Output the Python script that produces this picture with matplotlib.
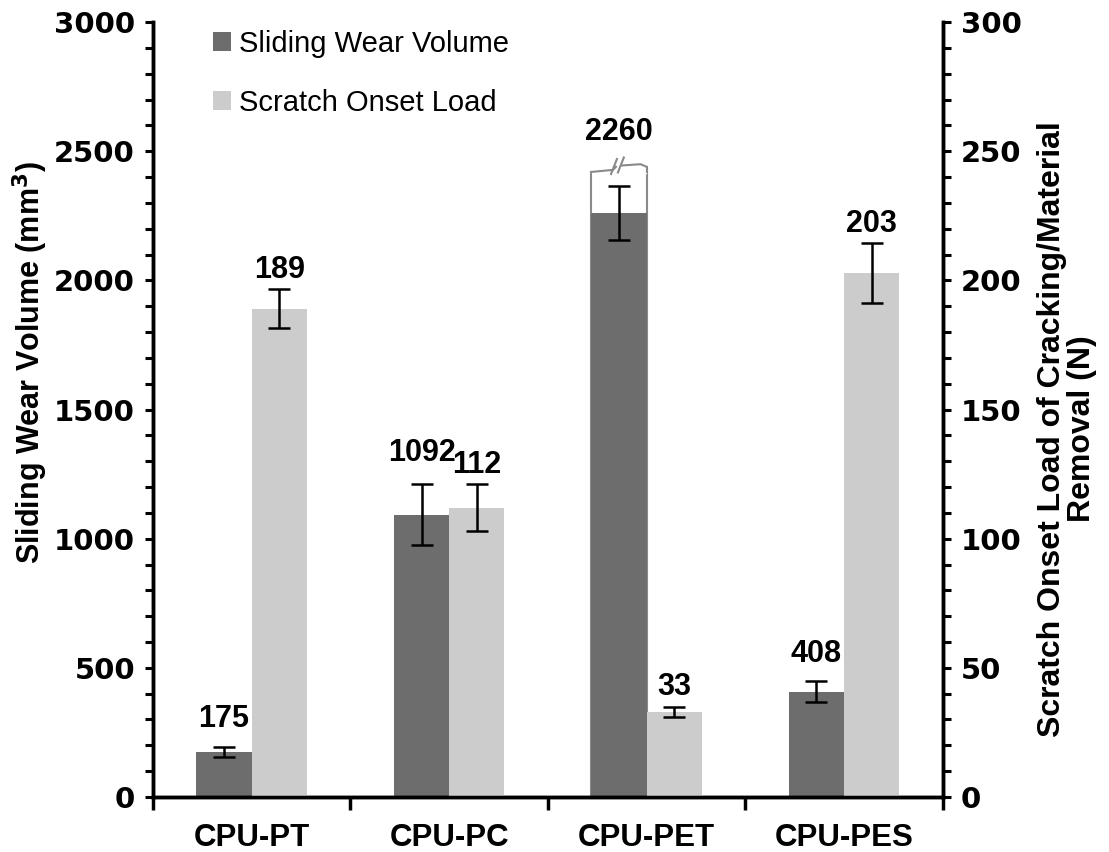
import numpy as np
import matplotlib
matplotlib.use("Agg")
import matplotlib.pyplot as plt
from matplotlib.ticker import MultipleLocator

plt.rcParams['font.family'] = ['Liberation Sans', 'DejaVu Sans']

# data
categories = ["CPU-PT", "CPU-PC", "CPU-PET", "CPU-PES"]
wear_volume = [175, 1092, 2260, 408]
wear_err = [20, 118, 105, 40]
scratch_load = [189, 112, 33, 203]
scratch_err = [7.5, 9, 2, 11.6]
wear_top_shown = 2440   # top of broken PET bar

DARK = "#6d6d6d"
LIGHT = "#cccccc"
EDGE = "#8a8a8a"

fig = plt.figure(figsize=(11.09, 8.52), dpi=100)
ax = fig.add_axes([0.138, 0.0646, 0.712, 0.9094])
ax2 = ax.twinx()

x = np.arange(len(categories)) + 0.5
w = 0.28

# broken PET bar outline (white part above the real value)
ipet = 2
xl, xr = x[ipet] - w, x[ipet]
ax.add_patch(plt.Rectangle((xl, 0), w, 2420, facecolor="white",
                           edgecolor=EDGE, lw=1.5, zorder=1))
ax.fill_between([xl + 0.005, xr - 0.005], 2415, 2430, color="white", zorder=1.5)
ax.plot([xl, xl + 0.11, xl + 0.125], [2420, 2428, 2440], color=EDGE, lw=1.5, zorder=2)
ax.plot([xl + 0.155, xr - 0.03, xr], [2445, 2450, 2440], color=EDGE, lw=1.5, zorder=2)
ax.plot([xr, xr], [2420, 2440], color=EDGE, lw=1.5, zorder=2)
ax.plot([xl + 0.1, xl + 0.13], [2412, 2470], color=EDGE, lw=1.5, zorder=3)
ax.plot([xl + 0.135, xl + 0.165], [2418, 2476], color=EDGE, lw=1.5, zorder=3)

ekw = dict(ecolor="black", elinewidth=1.8, capsize=8, capthick=1.8)
ax.bar(x - w / 2, wear_volume, w, color=DARK, yerr=wear_err, error_kw=ekw,
       zorder=2, label="Sliding Wear Volume")
ax2.bar(x + w / 2, scratch_load, w, color=LIGHT, yerr=scratch_err, error_kw=ekw,
        zorder=2, label="Scratch Onset Load")

# value labels
lab_font = dict(fontsize=22, fontweight="bold", ha="center", va="bottom")
for i, (v, e) in enumerate(zip(wear_volume, wear_err)):
    top = wear_top_shown if i == ipet else v + e
    off = 14 if i == ipet else (12 if i == 1 else 9)
    ax.annotate(str(v), (x[i] - w / 2, top), xytext=(0, off),
                textcoords="offset points", **lab_font)
for i, (v, e) in enumerate(zip(scratch_load, scratch_err)):
    ax2.annotate(str(v), (x[i] + w / 2, v + e), xytext=(0, 3),
                 textcoords="offset points", **lab_font)

ax.set_xlim(0, len(categories))
ax.set_ylim(0, 3000)
ax2.set_ylim(0, 300)
ax.set_xticks(np.arange(len(categories) + 1))
ax.set_xticklabels([])
ax.set_xticks(x, minor=True)
ax.set_xticklabels(categories, minor=True, fontsize=22.5, fontweight="bold")
ax.tick_params(axis="x", which="major", direction="out", length=9, width=2.5)
ax.tick_params(axis="x", which="minor", length=0, pad=19)

ax.yaxis.set_major_locator(MultipleLocator(500))
ax.yaxis.set_minor_locator(MultipleLocator(100))
ax2.yaxis.set_major_locator(MultipleLocator(50))
ax2.yaxis.set_minor_locator(MultipleLocator(10))
for a in (ax, ax2):
    a.tick_params(axis="y", which="both", direction="out", length=6, width=2.2,
                  labelsize=21, pad=7)
    for t in a.get_yticklabels():
        t.set_fontweight("bold")
        t.set_family("DejaVu Sans")
    for s in ("left", "right", "bottom"):
        a.spines[s].set_linewidth(2.5)
    a.spines["top"].set_visible(False)

ax.set_ylabel("Sliding Wear Volume (mm$^\\mathbf{3}$)", fontsize=22,
              fontweight="bold")
ax.yaxis.set_label_coords(-0.13, 0.56)
ax2.set_ylabel("Scratch Onset Load of Cracking/Material\nRemoval (N)",
               fontsize=23, fontweight="bold", linespacing=1.0)
ax2.yaxis.set_label_coords(1.12, 0.475)

h1, l1 = ax.get_legend_handles_labels()
h2, l2 = ax2.get_legend_handles_labels()
ax.legend(h1 + h2, l1 + l2, loc="upper left", bbox_to_anchor=(0.076, 0.99),
          frameon=False, fontsize=21, handlelength=0.6, handleheight=0.6,
          handletextpad=0.3, labelspacing=1.05, borderaxespad=0, borderpad=0)

fig.savefig("out.png", dpi=100)
